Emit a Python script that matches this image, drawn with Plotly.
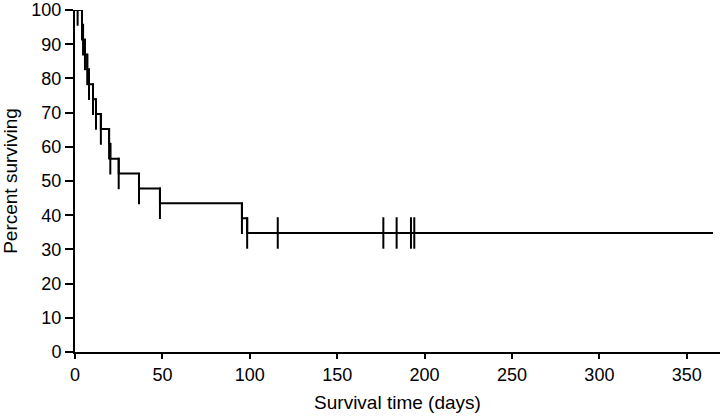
import plotly.graph_objects as go

# Kaplan-Meier curve
event_days = [4, 4.6, 5.7, 7, 8, 10.3, 12, 14.8, 19.5, 20.2, 25, 36.6, 48.6, 95.5, 98.5]
event_levels = [95.7, 91.3, 87.0, 82.6, 78.3, 73.9, 69.6, 65.2, 60.9, 56.5, 52.2, 47.8, 43.5, 39.1, 34.8]
censor_days = [1.5, 116, 176.4, 184, 192.2, 194.1]
censor_levels = [100, 34.8, 34.8, 34.8, 34.8, 34.8]
start_level = 100
end_day = 365
x_ticks = [0, 50, 100, 150, 200, 250, 300, 350]
y_ticks = [0, 10, 20, 30, 40, 50, 60, 70, 80, 90, 100]

step_x = [0] + event_days + [end_day]
step_y = [start_level] + event_levels + [event_levels[-1]]

half = 4.6
mx, my = [], []
for d, lv in list(zip(event_days, event_levels)) + list(zip(censor_days, censor_levels)):
    mx += [d, d, None]
    my += [lv - half, lv + half, None]

fig = go.Figure()
fig.add_trace(go.Scatter(x=step_x, y=step_y, mode="lines", line=dict(shape="hv", color="black", width=2),
                         showlegend=False, hoverinfo="skip"))
fig.add_trace(go.Scatter(x=mx, y=my, mode="lines", line=dict(color="black", width=2),
                         showlegend=False, hoverinfo="skip"))

fam = "Liberation Sans, Arial, sans-serif"
tickfont = dict(family=fam, size=18, color="black")
titlefont = dict(family=fam, size=19, color="black")
fig.update_layout(
    width=720, height=419,
    margin=dict(l=75, r=0, t=10, b=67),
    paper_bgcolor="white", plot_bgcolor="white",
    font=titlefont,
    xaxis=dict(range=[0, 369], tickmode="array", tickvals=x_ticks, showgrid=False, zeroline=False,
               showline=True, linecolor="black", linewidth=2, ticks="outside", ticklen=5,
               tickwidth=2, tickcolor="black", automargin=False,
               title=dict(text="Survival time (days)", standoff=12, font=titlefont), tickfont=tickfont),
    yaxis=dict(range=[0, 100], tickmode="array", tickvals=y_ticks, ticktext=[str(v) for v in y_ticks],
               showgrid=False, zeroline=False,
               showline=True, linecolor="black", linewidth=2, ticks="outside", ticklen=8,
               tickwidth=2, tickcolor="black", automargin=False,
               title=dict(text="Percent surviving", standoff=12, font=titlefont), tickfont=tickfont),
)
fig.write_html("out.html", config={"displayModeBar": False},
               post_script="document.body.style.margin='0';document.body.style.padding='0';")
